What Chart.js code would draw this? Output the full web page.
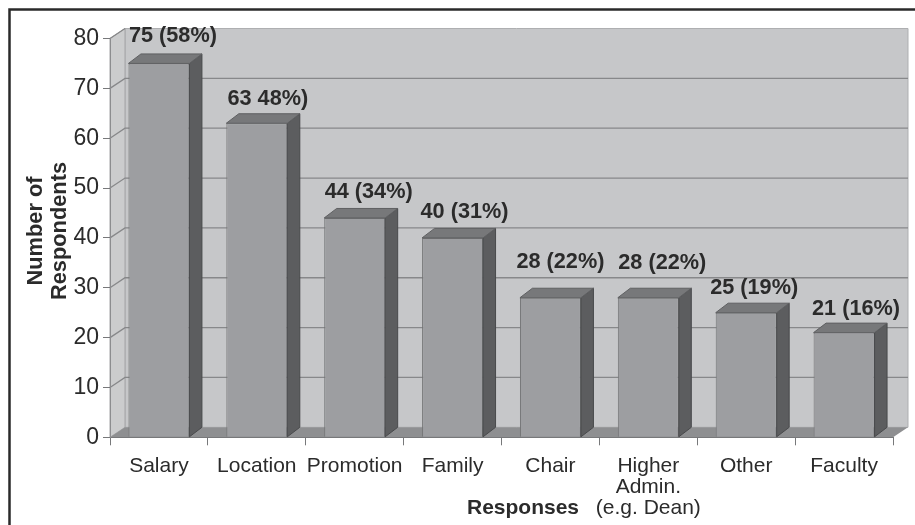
<!DOCTYPE html>
<html>
<head>
<meta charset="utf-8">
<style>
  html, body { margin: 0; padding: 0; background: #fff; }
  canvas { display: block; }
</style>
<script src="https://cdn.jsdelivr.net/npm/chart.js@4/dist/chart.umd.min.js"></script>
</head>
<body>
<canvas id="chart" width="915" height="525"></canvas>
<script>
const categories = ["Salary", "Location", "Promotion", "Family", "Chair", ["Higher", "Admin.", "(e.g. Dean)"], "Other", "Faculty"];
const respondents = [75, 63, 44, 40, 28, 28, 25, 21];
const valueLabels = ["75 (58%)", "63 48%)", "44 (34%)", "40 (31%)", "28 (22%)", "28 (22%)", "25 (19%)", "21 (16%)"];
const yTicks = [0, 10, 20, 30, 40, 50, 60, 70, 80];
const yTitle = ["Number of", "Respondents"];
const xTitle = "Responses";

const FONT = '"Liberation Sans", Arial, sans-serif';
const TEXT = '#2b2b2b';
const WALL_DX = 15, WALL_DY = 10;   // depth of the box
const BAR_DX = 12.5, BAR_DY = 9.5;  // depth of the bars
// labels are not placed evenly over the bars in the original
const LABEL_NUDGE_X = [14, 11, 14, 12, 10, 14, 8, 12];
const LABEL_NUDGE_Y = [27, 24, 26, 26, 36, 35, 25, 24];

function poly(ctx, pts, fill, stroke) {
  ctx.beginPath();
  pts.forEach((p, i) => i ? ctx.lineTo(p[0], p[1]) : ctx.moveTo(p[0], p[1]));
  ctx.closePath();
  ctx.fillStyle = fill;
  ctx.fill();
  if (stroke) {
    ctx.strokeStyle = stroke;
    ctx.lineWidth = 1;
    ctx.stroke();
  }
}

const box3d = {
  id: 'box3d',
  beforeDraw(chart) {
    const { ctx, chartArea: a, scales: { y } } = chart;
    const dx = WALL_DX, dy = WALL_DY;
    ctx.save();
    // frame round the figure
    ctx.strokeStyle = '#2a2a2a';
    ctx.lineWidth = 2.5;
    ctx.beginPath();
    ctx.moveTo(9.5, 525);
    ctx.lineTo(9.5, 9.5);
    ctx.lineTo(915, 9.5);
    ctx.stroke();
    // walls and floor
    poly(ctx, [[a.left + dx, a.top - dy], [a.right + dx, a.top - dy], [a.right + dx, a.bottom - dy], [a.left + dx, a.bottom - dy]], '#c6c7c9', '#aeafb1');
    poly(ctx, [[a.left, a.top], [a.left + dx, a.top - dy], [a.left + dx, a.bottom - dy], [a.left, a.bottom]], '#cbcccd', '#a4a5a7');
    poly(ctx, [[a.left, a.bottom], [a.left + dx, a.bottom - dy], [a.right + dx, a.bottom - dy], [a.right, a.bottom]], '#8e8f91');
    // grid lines run along the side wall and the back wall
    ctx.strokeStyle = '#87888a';
    ctx.lineWidth = 1.3;
    yTicks.forEach(v => {
      if (v === 0) return;
      const py = y.getPixelForValue(v);
      ctx.beginPath();
      ctx.moveTo(a.left, py);
      ctx.lineTo(a.left + dx, py - dy);
      if (v < 80) ctx.lineTo(a.right + dx, py - dy);
      ctx.stroke();
    });
    ctx.restore();
  },
  afterDatasetsDraw(chart) {
    const { ctx } = chart;
    const dx = BAR_DX, dy = BAR_DY;
    ctx.save();
    ctx.textAlign = 'center';
    ctx.textBaseline = 'middle';
    chart.getDatasetMeta(0).data.forEach((bar, i) => {
      const l = bar.x - bar.width / 2, r = bar.x + bar.width / 2;
      poly(ctx, [[r, bar.y], [r + dx, bar.y - dy], [r + dx, bar.base - dy], [r, bar.base]], '#5c5d5f', '#48494b');
      poly(ctx, [[l, bar.y], [l + dx, bar.y - dy], [r + dx, bar.y - dy], [r, bar.y]], '#77787a', '#5f6062');
      ctx.fillStyle = TEXT;
      ctx.font = 'bold 21.7px ' + FONT;
      ctx.fillText(valueLabels[i], bar.x + LABEL_NUDGE_X[i], bar.y - LABEL_NUDGE_Y[i]);
    });
    // axis titles sit off centre in the original, so the scale titles can't be used
    ctx.fillStyle = TEXT;
    ctx.font = 'bold 21px ' + FONT;
    ctx.fillText(xTitle, 523, 508);
    ctx.font = 'bold 21.8px ' + FONT;
    yTitle.forEach((line, i) => {
      ctx.save();
      ctx.translate(36 + i * 24, 231);
      ctx.rotate(-Math.PI / 2);
      ctx.fillText(line, 0, 0);
      ctx.restore();
    });
    ctx.restore();
  }
};

new Chart(document.getElementById('chart'), {
  type: 'bar',
  data: {
    labels: categories,
    datasets: [{
      data: respondents,
      backgroundColor: '#9d9ea1',
      borderColor: '#737476',
      borderWidth: 1,
      barPercentage: 0.623,
      categoryPercentage: 1
    }]
  },
  plugins: [box3d],
  options: {
    responsive: false,
    animation: false,
    layout: { padding: { top: 38.5, right: 22, bottom: 0, left: 0 } },
    plugins: { legend: { display: false }, tooltip: { enabled: false } },
    scales: {
      x: {
        afterFit(scale) { scale.height = 87.7; },
        grid: { drawOnChartArea: false, color: '#77787a', tickLength: 8 },
        border: { color: '#77787a' },
        ticks: { color: TEXT, padding: 10, maxRotation: 0, autoSkip: false, font: { family: FONT, size: 21, lineHeight: 1.0 } }
      },
      y: {
        min: 0,
        max: 80,
        afterFit(scale) { scale.width = 110; },
        grid: { drawOnChartArea: false, color: '#77787a', tickLength: 7 },
        border: { color: '#8c8d8f' },
        ticks: { color: TEXT, padding: 4, stepSize: 10, font: { family: FONT, size: 23 } }
      }
    }
  }
});
</script>
</body>
</html>
